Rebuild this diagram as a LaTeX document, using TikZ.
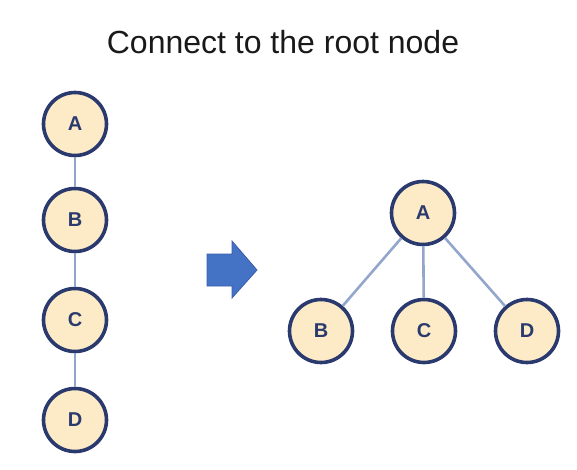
\documentclass[tikz,border=0pt]{standalone}
\usepackage{fontspec}
\setmainfont{Liberation Sans}
\usepackage{tikz}
\usetikzlibrary{positioning}

\definecolor{nodefill}{HTML}{FCEBC6}
\definecolor{nodeline}{HTML}{2A3A6E}
\definecolor{edgeline}{HTML}{93A6CC}
\definecolor{arrowfill}{HTML}{4472C4}
\definecolor{arrowline}{HTML}{3A5FA8}

\begin{document}
\begin{tikzpicture}[
  x=1pt, y=-1pt,
  vertex/.style={circle, draw=nodeline, fill=nodefill, line width=3.6pt,
    minimum size=63pt, inner sep=0pt, text=nodeline,
    font=\fontsize{20}{24}\selectfont\bfseries},
  edge/.style={draw=edgeline, line width=2.6pt},
  title/.style={font=\fontsize{32}{38}\selectfont, text=black!90},
]
  \useasboundingbox (0,0) rectangle (577,469);

  \node[title] (head) at (283,42) {Connect to the root node};

  % chain before
  \node[vertex] (a1) at (75,124) {A};
  \node[vertex] (b1) at (75,220) {B};
  \node[vertex] (c1) at (75,320) {C};
  \node[vertex] (d1) at (75,420) {D};

  \draw[edge] (a1) -- (b1);
  \draw[edge] (b1) -- (c1);
  \draw[edge] (c1) -- (d1);

  % block arrow
  \filldraw[fill=arrowfill, draw=arrowline, line width=0.8pt]
    (207,254) -- (232,254) -- (232,241) -- (257,270) -- (232,298)
    -- (232,286) -- (207,286) -- cycle;

  % tree after
  \node[vertex] (a2) at (423,213) {A};
  \node[vertex] (b2) at (321,331) {B};
  \node[vertex] (c2) at (424,331) {C};
  \node[vertex] (d2) at (527,331) {D};

  \draw[edge] (a2) -- (b2);
  \draw[edge] (a2) -- (c2);
  \draw[edge] (a2) -- (d2);
\end{tikzpicture}
\end{document}
